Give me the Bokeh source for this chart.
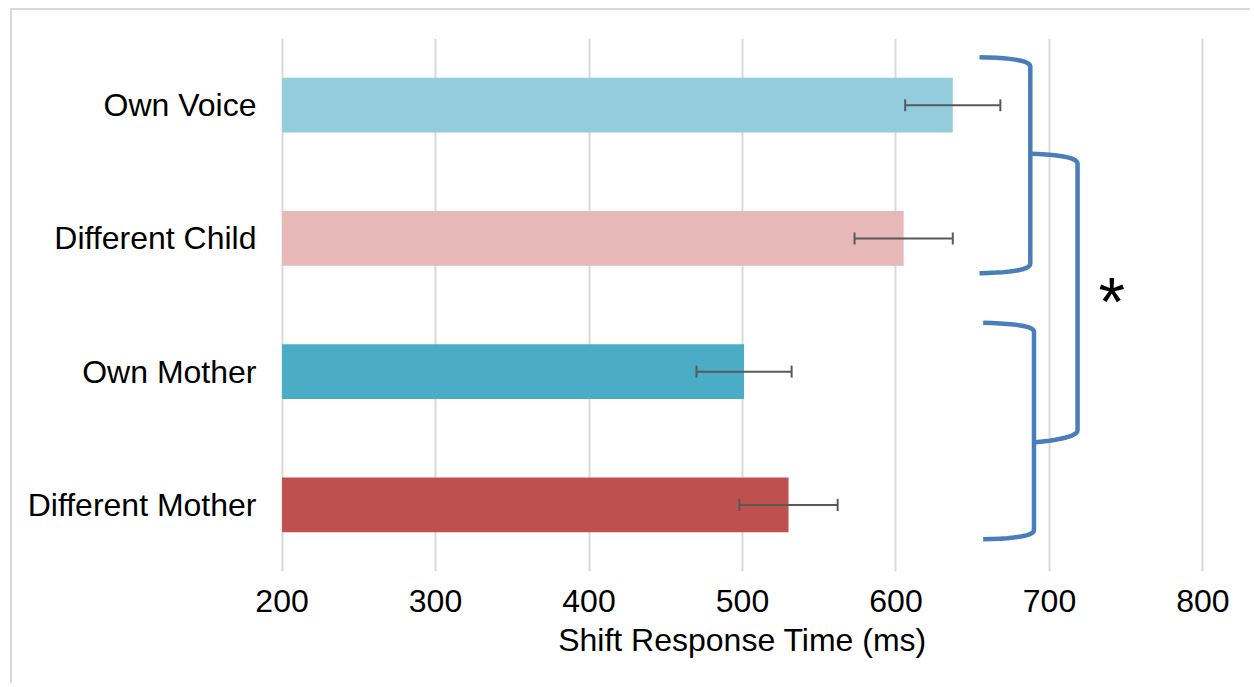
import numpy as np
from bokeh.plotting import figure
from bokeh.models import (Range1d, ColumnDataSource, Whisker, TeeHead,
                          FixedTicker)
from bokeh.core.properties import value
from bokeh.embed import file_html
from bokeh.resources import INLINE

# ---- data ----
categories = ["Own Voice", "Different Child", "Own Mother", "Different Mother"]
means = [637, 605, 501, 530]
errors = [31, 32, 31, 32]
colors = ["#93CDDD", "#E6B9B8", "#4BACC6", "#C0504D"]
x_ticks = [200, 300, 400, 500, 600, 700, 800]
x_min, x_max = 200, 800
axis_title = "Shift Response Time (ms)"
significance = "*"

FONT = "Liberation Sans"
FS = "32px"
n = len(categories)
slots = [n - i - 0.5 for i in range(n)]   # category slot centres, top to bottom

src = ColumnDataSource(dict(
    cat=categories,
    pos=slots,
    mean=means,
    lo=[m - e for m, e in zip(means, errors)],
    hi=[m + e for m, e in zip(means, errors)],
    color=colors,
    base=[x_min] * n,
))

p = figure(y_range=Range1d(0, n),
           x_range=Range1d(x_min - 1, x_max + 1),
           width=1240, height=675,
           output_backend="svg", toolbar_location=None,
           min_border_left=268, min_border_right=48,
           min_border_top=28, min_border_bottom=114)
p.styles = {"border-top": "2px solid #d9d9d9", "border-left": "2px solid #d9d9d9",
            "margin-left": "10px", "margin-top": "8px"}
p.outline_line_color = None
p.background_fill_color = "white"
p.border_fill_color = "white"

p.hbar(y="pos", left="base", right="mean", height=0.41, fill_color="color",
       line_color=None, source=src)

tee = dict(size=12, line_color="#595959", line_width=2)
p.add_layout(Whisker(base="pos", lower="lo", upper="hi", dimension="width",
                     source=src, line_color="#595959", line_width=2,
                     level="overlay",
                     upper_head=TeeHead(**tee), lower_head=TeeHead(**tee)))

# ---- grid / axes ----
p.ygrid.grid_line_color = None
p.xgrid.grid_line_color = "#d9d9d9"
p.xgrid.grid_line_width = 2
p.xaxis.ticker = FixedTicker(ticks=x_ticks)
p.yaxis.ticker = FixedTicker(ticks=slots)
p.yaxis.major_label_overrides = {s: c for s, c in zip(slots, categories)}

for ax in (p.xaxis[0], p.yaxis[0]):
    ax.axis_line_color = None
    ax.major_tick_line_color = None
    ax.minor_tick_line_color = None
    ax.major_tick_out = 0
    ax.minor_tick_out = 0
    ax.major_label_text_font = FONT
    ax.major_label_text_font_size = FS
    ax.major_label_text_color = "black"

p.xaxis.major_label_standoff = 18
p.xaxis.axis_label = axis_title
p.xaxis.axis_label_text_font = FONT
p.xaxis.axis_label_text_font_size = FS
p.xaxis.axis_label_text_font_style = "normal"
p.xaxis.axis_label_text_color = "black"
p.xaxis.axis_label_standoff = 7
p.yaxis.major_label_standoff = 24


# ---- significance brackets (annotation) ----
def qbez(p0, c, p1, k=12):
    t = np.linspace(0, 1, k)
    xs = (1 - t) ** 2 * p0[0] + 2 * (1 - t) * t * c[0] + t ** 2 * p1[0]
    ys = (1 - t) ** 2 * p0[1] + 2 * (1 - t) * t * c[1] + t ** 2 * p1[1]
    return list(xs), list(ys)


def path(*segs):
    xs, ys = [], []
    for sx, sy in segs:
        xs += sx
        ys += sy
    return xs, ys


bA = path(qbez((654.4, 3.860), (687.5, 3.852), (687.5, 3.79)),
          qbez((687.5, 2.31), (687.5, 2.245), (654.4, 2.239)))
bB = path(qbez((687.5, 3.135), (718.3, 3.125), (718.3, 3.06)),
          qbez((718.3, 1.06), (718.3, 1.0), (690.9, 0.97)))
bC = path(qbez((656.8, 1.866), (689.9, 1.858), (689.9, 1.80)),
          qbez((689.9, 0.31), (689.9, 0.25), (656.8, 0.242)))

for bx, by in (bA, bB, bC):
    p.line(bx, by, line_color="#4A7EBB", line_width=4.5, line_join="round")

p.text(x=[740.5], y=[2.03], text=[significance],
       text_font=value(FONT), text_font_size="68px",
       text_align="center", text_baseline="middle", text_color="black")

open("out.html", "w").write(file_html(p, INLINE))
